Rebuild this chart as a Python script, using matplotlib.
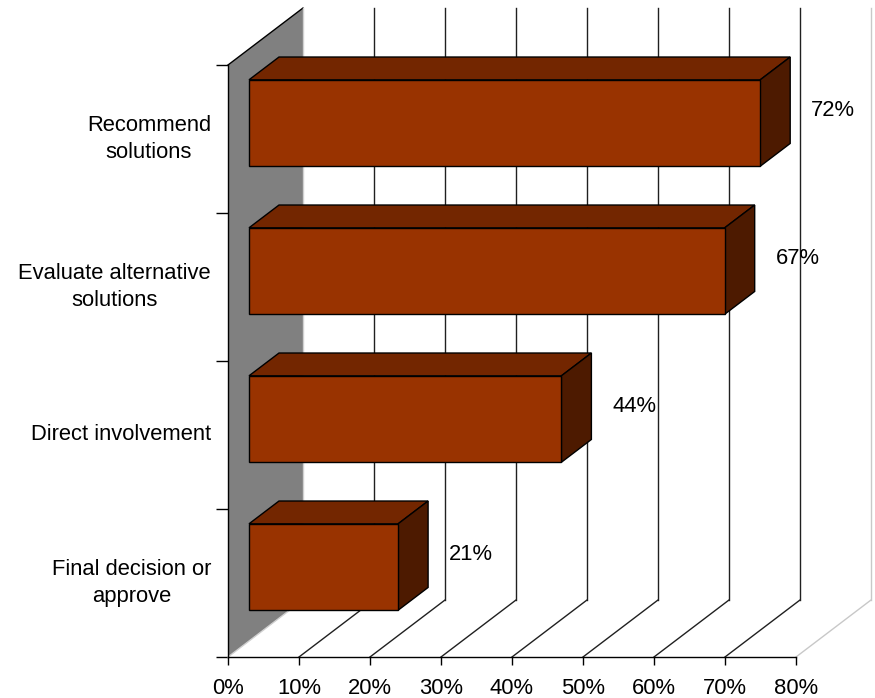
import matplotlib
matplotlib.use("Agg")
import matplotlib.pyplot as plt
from matplotlib.patches import Polygon, Rectangle

categories = ["Recommend\nsolutions", "Evaluate alternative\nsolutions",
              "Direct involvement", "Final decision or\napprove"]
values = [72, 67, 44, 21]
x_ticks = [0, 10, 20, 30, 40, 50, 60, 70, 80]
x_tick_labels = ["0%", "10%", "20%", "30%", "40%", "50%", "60%", "70%", "80%"]
value_labels = ["72%", "67%", "44%", "21%"]

plt.rcParams['font.family'] = ['Liberation Sans', 'DejaVu Sans']
FS = 15.8

W, H = 875, 698
fig = plt.figure(figsize=(W / 100, H / 100), dpi=100)
L, R, T, B = 228, 796, 65, 657
ax = fig.add_axes([L / W, (H - B) / H, (R - L) / W, (B - T) / H])
ax.set_xlim(0, 80)
ax.set_ylim(0, 4)
ax.patch.set_visible(False)

# depth projection (units of data)
px_x = (R - L) / 80.0
px_y = (B - T) / 4.0
DX = 75 / px_x
DY = 57 / px_y

n = len(categories)
# back wall (left side)
wall = Polygon([(0, 0), (0, 4), (DX, 4 + DY), (DX, DY)], closed=True,
               facecolor='#808080', edgecolor='none', clip_on=False, zorder=1)
ax.add_patch(wall)
ax.plot([0, DX], [4, 4 + DY], color='black', lw=1.0, clip_on=False, zorder=2)
ax.plot([0, DX], [0, DY], color='#d0d0d0', lw=1.0, clip_on=False, zorder=2)
ax.plot([DX, DX], [DY, 4 + DY], color='#d0d0d0', lw=1.0, clip_on=False, zorder=2)

# back gridlines and floor lines
for t in x_ticks[1:]:
    col = '#c8c8c8' if t == x_ticks[-1] else '#202020'
    ax.plot([t + DX, t + DX], [DY, 4 + DY], color=col, lw=1.0, clip_on=False, zorder=2)
    ax.plot([t, t + DX], [0, DY], color=col, lw=1.0, clip_on=False, zorder=2)

# 3D bars
d1, d2 = 0.28, 0.68
hh = 0.292
front_c, top_c, side_c = '#993300', '#732600', '#4d1a00'
for i, v in enumerate(values):
    c = n - 0.5 - i
    ox1, oy1 = d1 * DX, d1 * DY
    ox2, oy2 = d2 * DX, d2 * DY
    y0, y1 = c - hh, c + hh
    top = Polygon([(ox1, y1 + oy1), (v + ox1, y1 + oy1), (v + ox2, y1 + oy2), (ox2, y1 + oy2)],
                  closed=True, facecolor=top_c, edgecolor='black', lw=1.0, clip_on=False, zorder=5)
    side = Polygon([(v + ox1, y0 + oy1), (v + ox1, y1 + oy1), (v + ox2, y1 + oy2), (v + ox2, y0 + oy2)],
                   closed=True, facecolor=side_c, edgecolor='black', lw=1.0, clip_on=False, zorder=5)
    front = Rectangle((ox1, y0 + oy1), v, y1 - y0, facecolor=front_c, edgecolor='black',
                      lw=1.0, clip_on=False, zorder=6)
    ax.add_patch(top)
    ax.add_patch(side)
    ax.add_patch(front)
    ax.text(v + 13.2, c + 0.19, value_labels[i], ha='center', va='center',
            fontsize=FS, color='black', zorder=7)

# axes styling
for s in ['top', 'right']:
    ax.spines[s].set_visible(False)
for s in ['left', 'bottom']:
    ax.spines[s].set_color('black')
    ax.spines[s].set_linewidth(1.0)
    ax.spines[s].set_zorder(3)

ax.set_xticks(x_ticks)
ax.set_xticklabels(x_tick_labels, fontsize=FS)
ax.tick_params(axis='x', direction='out', length=8 * 0.72, width=1.0, pad=9, colors='black')

ax.set_yticks(range(n + 1))
ax.set_yticklabels([])
ax.tick_params(axis='y', which='major', direction='out', length=12 * 0.72, width=1.0)
ax.set_yticks([n - 0.5 - i for i in range(n)], minor=True)
ax.set_yticklabels(categories, minor=True, fontsize=FS)
ax.tick_params(axis='y', which='minor', length=0, pad=12.2)
for lab in ax.get_yticklabels(minor=True):
    lab.set_multialignment('center')
    lab.set_linespacing(1.38)
    lab.set_verticalalignment('center')

fig.savefig("out.png", dpi=100)
